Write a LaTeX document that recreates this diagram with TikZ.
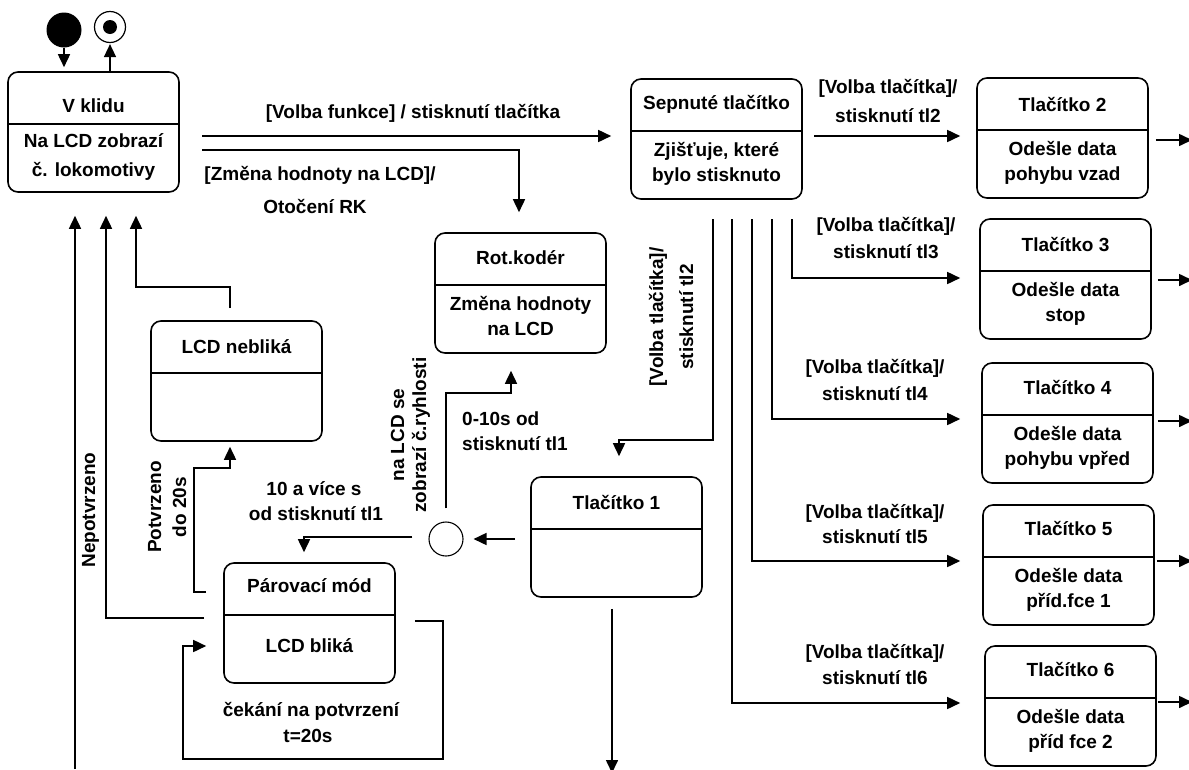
\documentclass[tikz,border=0pt]{standalone}
\usepackage{fontspec}
\setmainfont{Liberation Sans}
\usetikzlibrary{arrows.meta}

% state box: name, left x, top y, title offset, title
\newcommand\stbox[5]{%
  \node[box] (#1) at (#2+85.5,#3+60) {};
  \draw[ln] ([yshift=-53pt]#1.north west) -- ([yshift=-53pt]#1.north east);
  \node[txt] (#1-title) at ([yshift=-#4pt]#1.north) {#5};
}
% two body lines of a state box
\newcommand\stbody[3]{%
  \node[txt] (#1-b1) at ([yshift=-73pt]#1.north) {#2};
  \node[txt] (#1-b2) at ([yshift=-98pt]#1.north) {#3};
}

\begin{document}
\begin{tikzpicture}[x=1pt,y=-1pt,
  ln/.style={line width=1.6pt},
  arr/.style={ln,-{Triangle[length=13pt,width=12pt]}},
  box/.style={draw,rounded corners=10pt,minimum width=171pt,minimum height=120pt,
              inner sep=0pt,line width=1.6pt},
  txt/.style={font=\fontsize{19}{23}\selectfont\bfseries,inner sep=0pt,
              text height=14pt,text depth=4pt},
  rtxt/.style={txt,rotate=90},
]
\fill[white] (0,0) rectangle (1189,769);
\useasboundingbox (0,0) rectangle (1189,769);

% ---------- states ----------
\stbox{vk}{8}{72}{36}{V klidu}
\node[txt] (vk-b1) at ([yshift=-71pt]vk.north) {Na LCD zobrazí};
\node[txt] (vk-b2) at ([yshift=-100pt]vk.north) {č. lokomotivy};

\stbox{sep}{631}{79}{26}{Sepnuté tlačítko}
\stbody{sep}{Zjišťuje, které}{bylo stisknuto}

\stbox{t2}{977}{78}{29}{Tlačítko 2}
\stbody{t2}{Odešle data}{pohybu vzad}

\stbox{rot}{435}{233}{27}{Rot.kodér}
\stbody{rot}{Změna hodnoty}{na LCD}

\stbox{lcdn}{151}{321}{28}{LCD nebliká}

\stbox{par}{224}{563}{25}{Párovací mód}
\node[txt] (par-b1) at ([yshift=-85pt]par.north) {LCD bliká};

\stbox{t1}{531}{477}{28}{Tlačítko 1}

\stbox{t3}{980}{219}{28}{Tlačítko 3}
\stbody{t3}{Odešle data}{stop}

\stbox{t4}{982}{363}{27}{Tlačítko 4}
\stbody{t4}{Odešle data}{pohybu vpřed}

\stbox{t5}{983}{505}{26}{Tlačítko 5}
\stbody{t5}{Odešle data}{příd.fce 1}

\stbox{t6}{985}{646}{26}{Tlačítko 6}
\stbody{t6}{Odešle data}{příd fce 2}

% initial, final and junction pseudo-states
\node[fill,circle,minimum size=35pt,inner sep=0pt] (init) at (64,30) {};
\node[draw,circle,minimum size=31pt,inner sep=0pt,line width=1.2pt] (fin) at (110,27) {};
\node[fill,circle,minimum size=14pt,inner sep=0pt] (fincore) at (fin) {};
\node[draw,circle,minimum size=34pt,inner sep=0pt,line width=1.1pt] (junc) at (446,539) {};

% ---------- transitions ----------
\draw[arr,shorten >=4pt] (init.south) -- (init.south |- vk.north);
\draw[arr,shorten >=1pt] (fin.south |- vk.north) -- (fin.south);

\coordinate (a1) at (202,136);
\draw[arr,shorten >=19pt] (a1) -- (a1 -| sep.west);

\coordinate (b1) at (202,150);
\coordinate (b2) at (519,150);
\draw[arr,shorten >=20pt] (b1) -- (b2) -- (b2 |- rot.north);

\coordinate (c1) at (814,136);
\draw[arr,shorten >=16pt] (c1) -- (c1 -| t2.west);

% branches leaving the pressed-button state
\coordinate (e1) at (713,219);
\coordinate (e2) at (713,440);
\coordinate (e3) at (619,440);
\draw[arr,shorten >=20pt] (e1) -- (e2) -- (e3) -- (e3 |- t1.north);

\coordinate (f1) at (792,219);
\coordinate (f2) at (792,278);
\draw[arr,shorten >=19pt] (f1) -- (f2) -- (f2 -| t3.west);

\coordinate (g1) at (772,219);
\coordinate (g2) at (772,419);
\draw[arr,shorten >=21pt] (g1) -- (g2) -- (g2 -| t4.west);

\coordinate (h1) at (752,219);
\coordinate (h2) at (752,561);
\draw[arr,shorten >=22pt] (h1) -- (h2) -- (h2 -| t5.west);

\coordinate (k1) at (732,219);
\coordinate (k2) at (732,703);
\draw[arr,shorten >=24pt] (k1) -- (k2) -- (k2 -| t6.west);

% exits on the right edge
\coordinate (o2) at (1192,140);
\coordinate (o3) at (1192,280);
\coordinate (o4) at (1192,421);
\coordinate (o5) at (1192,561);
\coordinate (o6) at (1192,702);
\draw[arr,shorten <=7pt] (t2.east |- o2) -- (o2);
\draw[arr,shorten <=6pt] (t3.east |- o3) -- (o3);
\draw[arr,shorten <=4pt] (t4.east |- o4) -- (o4);
\draw[arr,shorten <=2pt] (t5.east |- o5) -- (o5);
\draw[arr,shorten <=1pt] (t6.east |- o6) -- (o6);

% button 1
\draw[arr,shorten <=15pt,shorten >=10pt] (t1.west |- junc) -- (junc.east);
\coordinate (q1) at (612,773);
\draw[arr,shorten <=11pt] (q1 |- t1.south) -- (q1);

\coordinate (i1) at (446,393);
\coordinate (i2) at (511,393);
\draw[arr,shorten <=13pt,shorten >=17pt] (junc.north) -- (i1) -- (i2) -- (i2 |- rot.south);

\coordinate (j1) at (304,537);
\draw[arr,shorten <=16pt,shorten >=10pt] (junc.west |- j1) -- (j1) -- (j1 |- par.north);

% pairing mode
\coordinate (m1) at (194,592);
\coordinate (m2) at (194,468);
\coordinate (m3) at (230,468);
\draw[arr,shorten <=17pt,shorten >=5pt] (par.west |- m1) -- (m1) -- (m2) -- (m3) -- (m3 |- lcdn.south);

\coordinate (n1) at (106,618);
\draw[arr,shorten <=19pt,shorten >=23pt] (par.west |- n1) -- (n1) -- (n1 |- vk.south);

\coordinate (r1) at (75,769);
\draw[arr,shorten >=23pt] (r1) -- (r1 |- vk.south);

\coordinate (s1) at (230,287);
\coordinate (s2) at (136,287);
\draw[arr,shorten <=12pt,shorten >=23pt] (s1 |- lcdn.north) -- (s1) -- (s2) -- (s2 |- vk.south);

\coordinate (p1) at (443,621);
\coordinate (p2) at (443,759);
\coordinate (p3) at (183,759);
\coordinate (p4) at (183,646);
\draw[arr,shorten <=19pt,shorten >=17pt] (par.east |- p1) -- (p1) -- (p2) -- (p3) -- (p4) -- (p4 -| par.west);

% ---------- transition labels ----------
\node[txt] (lA) at (413,113) {[Volba funkce] / stisknutí tlačítka};
\node[txt] (lB1) at (320,175) {[Změna hodnoty na LCD]/};
\node[txt] (lB2) at (315,208) {Otočení RK};

\node[txt] (lC1) at (888,88) {[Volba tlačítka]/};
\node[txt] (lC2) at (888,117) {stisknutí tl2};
\node[txt] (lF1) at (886,226) {[Volba tlačítka]/};
\node[txt] (lF2) at (886,253) {stisknutí tl3};
\node[txt] (lG1) at (875,368) {[Volba tlačítka]/};
\node[txt] (lG2) at (875,395) {stisknutí tl4};
\node[txt] (lH1) at (875,513) {[Volba tlačítka]/};
\node[txt] (lH2) at (875,538) {stisknutí tl5};
\node[txt] (lK1) at (875,653) {[Volba tlačítka]/};
\node[txt] (lK2) at (875,679) {stisknutí tl6};

\node[rtxt] (lE1) at (658,317) {[Volba tlačítka]/};
\node[rtxt] (lE2) at (688,317) {stisknutí tl2};

\node[txt,anchor=west] (lI1) at (462,420) {0-10s od};
\node[txt,anchor=west] (lI2) at (462,445) {stisknutí tl1};
\node[rtxt] (lI3) at (399,435) {na LCD se};
\node[rtxt] (lI4) at (421,435) {zobrazí č.ryhlosti};

\node[txt] (lJ1) at (314,490) {10 a více s};
\node[txt] (lJ2) at (316,515) {od stisknutí tl1};

\node[rtxt] (lM1) at (156,507) {Potvrzeno};
\node[rtxt] (lM2) at (181,507) {do 20s};
\node[rtxt] (lN) at (90,510) {Nepotvrzeno};

\node[txt] (lP1) at (311,711) {čekání na potvrzení};
\node[txt] (lP2) at (308,737) {t=20s};
\end{tikzpicture}
\end{document}
